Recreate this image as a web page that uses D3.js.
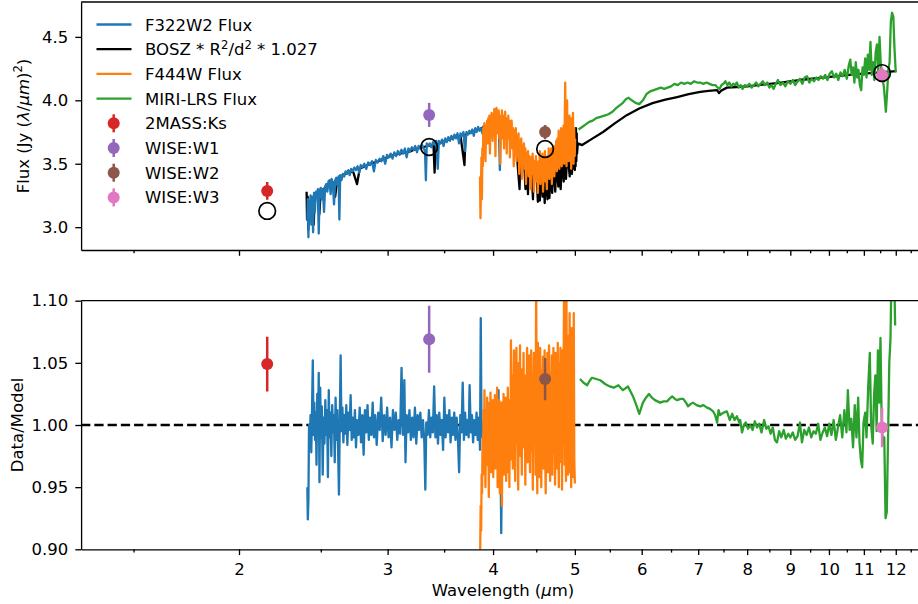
<!DOCTYPE html>
<html>
<head>
<meta charset="utf-8">
<script src="https://cdn.jsdelivr.net/npm/d3@7"></script>
<style>
  body { margin: 0; background: #fff; }
  svg { font-family: "DejaVu Sans", sans-serif; }
</style>
</head>
<body>
<div id="chart"></div>
<script>
// ---- data (wavelength in micron, value) ----
const f322Flux = [
  [2.410,3.05],[2.413,3.22],[2.417,2.92],[2.421,3.18],[2.426,3.12],[2.431,3.25],[2.436,3.02],[2.442,3.24],
  [2.448,2.96],[2.454,3.27],[2.460,3.12],[2.467,3.28],[2.474,3.24],[2.480,3.30],[2.486,2.95],[2.492,3.29],
  [2.500,3.31],[2.508,3.22],[2.515,3.30],[2.522,3.12],[2.530,3.32],[2.538,3.34],[2.545,3.28],[2.553,3.36],
  [2.560,3.37],[2.568,3.26],[2.575,3.38],[2.583,3.35],[2.592,3.18],[2.600,3.37],[2.608,3.39],[2.616,3.33],
  [2.624,3.40],[2.630,3.06],[2.636,3.41],[2.645,3.37],[2.655,3.42],[2.665,3.40],[2.675,3.44],[2.685,3.42],
  [2.695,3.45],[2.705,3.41],[2.716,3.46],[2.728,3.44],[2.740,3.47],[2.752,3.45],[2.764,3.48],[2.776,3.43],
  [2.788,3.49],[2.800,3.47],[2.815,3.50],[2.830,3.46],[2.845,3.51],[2.860,3.49],[2.875,3.52],[2.890,3.44],
  [2.905,3.53],[2.920,3.51],[2.935,3.54],[2.950,3.52],[2.965,3.56],[2.980,3.50],[2.995,3.57],[3.010,3.55],
  [3.025,3.58],[3.040,3.54],[3.055,3.59],[3.070,3.56],[3.085,3.60],[3.100,3.57],[3.115,3.61],[3.130,3.58],
  [3.145,3.62],[3.160,3.55],[3.175,3.62],[3.190,3.60],[3.205,3.63],[3.220,3.61],[3.235,3.64],[3.250,3.59],
  [3.265,3.64],[3.280,3.62],[3.295,3.65],[3.310,3.62],[3.322,3.60],[3.330,3.37],[3.338,3.66],[3.352,3.64],
  [3.365,3.66],[3.380,3.63],[3.395,3.67],[3.410,3.65],[3.425,3.68],[3.440,3.46],[3.450,3.68],[3.465,3.66],
  [3.480,3.69],[3.495,3.64],[3.510,3.70],[3.525,3.67],[3.540,3.71],[3.555,3.68],[3.570,3.72],[3.585,3.69],
  [3.600,3.73],[3.615,3.70],[3.630,3.74],[3.645,3.66],[3.660,3.74],[3.675,3.72],[3.690,3.75],[3.705,3.60],
  [3.720,3.75],[3.735,3.73],[3.750,3.76],[3.765,3.74],[3.780,3.77],[3.795,3.72],[3.810,3.78],[3.825,3.75],
  [3.840,3.79],[3.855,3.76],[3.870,3.78],[3.885,3.74],[3.900,3.80],[3.920,3.77],[3.940,3.83],[3.960,3.79],
  [3.980,3.86],[4.000,3.82],[4.020,3.93],[4.040,3.84],[4.060,3.90],[4.075,3.45],[4.085,3.82],[4.100,3.83]
];

const boszModel = [
  [2.405,3.28],[2.408,3.06],[2.412,3.24],[2.416,2.98],[2.422,3.18],[2.430,3.20],[2.440,3.23],[2.452,3.02],
  [2.460,3.25],[2.475,3.27],[2.490,3.10],[2.500,3.29],[2.520,3.30],[2.540,3.33],[2.560,3.35],[2.580,3.36],
  [2.600,3.24],[2.615,3.38],[2.640,3.40],[2.670,3.42],[2.700,3.43],[2.730,3.44],[2.760,3.34],[2.780,3.46],
  [2.820,3.48],[2.860,3.50],[2.900,3.51],[2.950,3.53],[3.000,3.55],[3.050,3.57],[3.100,3.58],[3.150,3.59],
  [3.200,3.60],[3.250,3.62],[3.300,3.63],[3.350,3.64],[3.400,3.645],[3.410,3.43],[3.420,3.65],[3.480,3.67],
  [3.540,3.69],[3.600,3.71],[3.660,3.72],[3.700,3.49],[3.710,3.73],[3.780,3.75],[3.850,3.77],[3.900,3.79],
  [3.960,3.81],[4.020,3.83],[4.080,3.80],[4.140,3.76],[4.200,3.72],[4.260,3.64],[4.300,3.30],[4.310,3.62],
  [4.350,3.58],[4.370,3.30],[4.385,3.55],[4.400,3.26],[4.410,3.54],[4.440,3.50],[4.460,3.22],[4.470,3.49],
  [4.500,3.47],[4.520,3.20],[4.530,3.46],[4.545,3.21],[4.560,3.45],[4.580,3.24],[4.590,3.46],[4.605,3.19],
  [4.620,3.46],[4.640,3.22],[4.650,3.47],[4.665,3.23],[4.680,3.48],[4.700,3.27],[4.710,3.50],[4.740,3.28],
  [4.750,3.52],[4.780,3.32],[4.790,3.54],[4.810,3.30],[4.830,3.56],[4.850,3.36],[4.860,3.58],[4.880,3.38],
  [4.900,3.60],[4.930,3.40],[4.940,3.62],[4.960,3.42],[4.970,3.64],[4.990,3.46],[4.995,3.70],[5.000,3.45],
  [5.005,3.75],[5.010,3.48],[5.015,3.78],[5.020,3.52],[5.025,3.74],[5.030,3.58],[5.040,3.66],[5.100,3.647],
  [5.250,3.70],[5.400,3.75],[5.580,3.82],[5.760,3.883],[5.960,3.935],[6.180,3.978],[6.400,4.005],[6.610,4.026],
  [6.820,4.048],[7.040,4.066],[7.200,4.074],[7.370,4.081],[7.410,4.057],[7.450,4.076],[7.570,4.100],[7.780,4.105],
  [8.000,4.110],[8.340,4.124],[8.680,4.136],[8.950,4.148],[9.220,4.160],[9.550,4.170],[9.900,4.180],[10.350,4.195],
  [10.800,4.207],[11.400,4.218],[12.020,4.230]
];

const f444Flux = [
  [3.860,3.40],[3.865,3.07],[3.870,3.30],[3.875,3.55],[3.880,3.22],[3.885,3.62],[3.890,3.48],[3.895,3.78],
  [3.900,3.60],[3.906,3.82],[3.912,3.70],[3.918,3.52],[3.924,3.80],[3.930,3.72],[3.936,3.84],[3.942,3.66],
  [3.948,3.86],[3.954,3.78],[3.960,3.88],[3.966,3.58],[3.972,3.84],[3.978,3.76],[3.984,3.90],[3.990,3.80],
  [3.996,3.68],[4.002,3.89],[4.008,3.78],[4.014,3.93],[4.020,3.82],[4.026,3.56],[4.032,3.86],[4.038,3.94],
  [4.044,3.74],[4.050,3.90],[4.056,3.80],[4.062,3.92],[4.068,3.70],[4.074,3.88],[4.080,3.50],[4.086,3.85],
  [4.092,3.78],[4.098,3.92],[4.104,3.70],[4.110,3.88],[4.116,3.80],[4.122,3.62],[4.128,3.86],[4.134,3.91],
  [4.140,3.74],[4.146,3.86],[4.152,3.58],[4.158,3.82],[4.164,3.76],[4.170,3.88],[4.176,3.70],[4.182,3.84],
  [4.188,3.55],[4.194,3.80],[4.200,3.72],[4.208,3.84],[4.216,3.62],[4.224,3.78],[4.232,3.48],[4.240,3.76],
  [4.248,3.66],[4.256,3.78],[4.264,3.52],[4.272,3.72],[4.280,3.60],[4.288,3.74],[4.296,3.42],[4.304,3.68],
  [4.312,3.56],[4.320,3.70],[4.328,3.38],[4.336,3.64],[4.344,3.52],[4.352,3.66],[4.360,3.46],[4.368,3.62],
  [4.376,3.34],[4.384,3.58],[4.392,3.48],[4.400,3.60],[4.408,3.40],[4.416,3.56],[4.424,3.46],[4.432,3.30],
  [4.440,3.55],[4.448,3.42],[4.456,3.58],[4.464,3.45],[4.472,3.28],[4.480,3.52],[4.488,3.40],[4.496,3.56],
  [4.504,3.36],[4.512,3.50],[4.520,3.27],[4.528,3.52],[4.536,3.42],[4.544,3.60],[4.552,3.34],[4.560,3.50],
  [4.568,3.40],[4.576,3.58],[4.584,3.28],[4.592,3.48],[4.600,3.42],[4.608,3.60],[4.616,3.36],[4.624,3.52],
  [4.632,3.30],[4.640,3.56],[4.648,3.44],[4.656,3.62],[4.664,3.38],[4.672,3.54],[4.680,3.46],[4.688,3.62],
  [4.696,3.34],[4.704,3.56],[4.712,3.48],[4.720,3.64],[4.728,3.40],[4.736,3.60],[4.744,3.50],[4.752,3.68],
  [4.760,3.44],[4.768,3.70],[4.776,3.55],[4.784,3.76],[4.792,3.46],[4.800,3.66],[4.808,3.56],[4.816,3.78],
  [4.824,3.48],[4.832,3.72],[4.840,3.60],[4.848,3.80],[4.856,3.50],[4.864,3.84],[4.870,4.14],[4.876,3.58],
  [4.882,3.90],[4.888,3.48],[4.895,4.00],[4.902,3.62],[4.910,3.84],[4.918,3.52],[4.926,3.88],[4.934,3.66],
  [4.942,3.86],[4.950,3.46],[4.958,3.80],[4.966,3.60],[4.974,3.90],[4.982,3.50],[4.990,3.78],[4.998,3.56],
  [5.004,3.70]
];

const miriFlux = [
  [5.05,3.77],[5.10,3.79],[5.15,3.81],[5.20,3.83],[5.25,3.84],[5.30,3.86],[5.36,3.87],[5.42,3.88],
  [5.48,3.89],[5.54,3.91],[5.60,3.94],[5.65,3.96],[5.70,3.98],[5.75,4.01],[5.79,4.02],[5.84,4.00],
  [5.90,3.98],[5.96,3.97],[6.02,4.00],[6.08,4.05],[6.14,4.07],[6.20,4.08],[6.26,4.09],[6.32,4.10],
  [6.38,4.09],[6.44,4.10],[6.50,4.11],[6.56,4.13],[6.62,4.12],[6.68,4.14],[6.74,4.13],[6.80,4.14],
  [6.86,4.13],[6.92,4.15],[6.98,4.14],[7.04,4.14],[7.10,4.13],[7.16,4.14],[7.22,4.13],[7.28,4.12],
  [7.34,4.12],[7.38,4.10],[7.42,4.09],[7.46,4.12],[7.50,4.13],[7.54,4.15],[7.58,4.12],[7.62,4.14],
  [7.66,4.11],[7.70,4.13],[7.74,4.12],[7.78,4.14],[7.82,4.10],[7.86,4.12],[7.90,4.09],[7.95,4.12],
  [8.00,4.11],[8.05,4.13],[8.10,4.10],[8.15,4.12],[8.20,4.14],[8.25,4.11],[8.30,4.13],[8.35,4.15],
  [8.40,4.12],[8.45,4.14],[8.50,4.10],[8.55,4.12],[8.60,4.09],[8.65,4.13],[8.70,4.16],[8.76,4.12],
  [8.82,4.14],[8.88,4.11],[8.94,4.15],[9.00,4.13],[9.06,4.16],[9.12,4.12],[9.18,4.15],[9.24,4.17],
  [9.30,4.13],[9.36,4.18],[9.42,4.19],[9.48,4.14],[9.54,4.17],[9.60,4.15],[9.66,4.18],[9.72,4.16],
  [9.78,4.19],[9.84,4.17],[9.90,4.20],[9.96,4.16],[10.02,4.21],[10.08,4.23],[10.14,4.18],[10.20,4.21],
  [10.26,4.16],[10.32,4.22],[10.38,4.19],[10.44,4.24],[10.50,4.17],[10.56,4.28],[10.60,4.32],[10.64,4.20],
  [10.68,4.26],[10.72,4.14],[10.76,4.30],[10.80,4.18],[10.84,4.24],[10.88,4.12],[10.92,4.08],[10.96,4.26],
  [11.00,4.20],[11.04,4.33],[11.08,4.18],[11.12,4.36],[11.16,4.24],[11.20,4.46],[11.24,4.20],[11.28,4.30],
  [11.32,4.16],[11.36,4.38],[11.40,4.44],[11.44,4.22],[11.48,4.50],[11.52,4.28],[11.56,4.20],[11.62,4.10],
  [11.68,3.91],[11.72,4.06],[11.76,4.24],[11.80,4.30],[11.84,4.62],[11.88,4.69],[11.92,4.66],[11.96,4.40],
  [12.00,4.22]
];

const f322Ratio = [
  [2.410,0.950],[2.413,0.924],[2.417,0.940],[2.421,1.000],[2.426,0.985],[2.431,1.008],[2.436,0.978],[2.441,1.012],
  [2.446,1.052],[2.451,0.992],[2.456,1.018],[2.461,0.988],[2.466,1.010],[2.471,0.968],[2.476,1.025],[2.481,0.994],
  [2.486,1.042],[2.491,0.954],[2.496,1.030],[2.501,0.990],[2.507,1.015],[2.513,0.960],[2.519,1.006],[2.525,0.985],
  [2.531,1.020],[2.537,0.992],[2.543,1.012],[2.549,0.958],[2.555,1.028],[2.561,0.990],[2.567,1.010],[2.573,0.975],
  [2.579,1.016],[2.585,0.994],[2.591,1.008],[2.597,0.970],[2.603,1.022],[2.609,0.988],[2.615,1.012],[2.621,0.980],
  [2.627,0.944],[2.633,1.004],[2.639,1.056],[2.645,0.995],[2.652,1.014],[2.659,0.986],[2.666,1.008],[2.673,0.993],
  [2.680,1.016],[2.688,0.984],[2.696,1.010],[2.704,0.996],[2.712,1.024],[2.720,0.988],[2.728,1.006],[2.736,0.990],
  [2.744,1.012],[2.752,0.982],[2.760,1.004],[2.770,0.992],[2.780,1.014],[2.790,0.986],[2.800,1.008],[2.810,0.976],
  [2.820,1.012],[2.830,0.994],[2.840,1.016],[2.850,0.988],[2.860,1.006],[2.870,0.992],[2.880,1.018],[2.890,0.990],
  [2.900,1.008],[2.912,0.984],[2.924,1.010],[2.936,0.996],[2.948,1.022],[2.960,0.987],[2.972,1.008],[2.984,0.992],
  [2.996,1.014],[3.008,0.990],[3.020,1.006],[3.032,0.982],[3.044,1.012],[3.056,0.996],[3.068,1.010],[3.080,0.988],
  [3.092,1.004],[3.104,0.993],[3.116,1.046],[3.128,0.992],[3.140,1.036],[3.150,0.970],[3.160,1.008],[3.172,0.994],
  [3.184,1.012],[3.196,0.988],[3.208,1.006],[3.220,0.990],[3.232,1.014],[3.244,0.985],[3.256,1.008],[3.268,0.996],
  [3.280,1.010],[3.292,0.990],[3.304,1.004],[3.316,0.986],[3.325,0.948],[3.334,1.002],[3.346,0.992],[3.358,1.012],
  [3.370,0.990],[3.382,1.006],[3.394,0.994],[3.406,1.031],[3.418,0.990],[3.430,1.008],[3.442,0.985],[3.454,1.010],
  [3.466,0.992],[3.478,1.004],[3.490,0.980],[3.502,1.022],[3.514,0.990],[3.526,1.008],[3.538,0.994],[3.550,1.012],
  [3.562,0.986],[3.574,1.006],[3.586,0.992],[3.598,1.010],[3.610,0.988],[3.622,1.006],[3.634,0.990],[3.646,0.962],
  [3.658,1.008],[3.670,0.994],[3.682,1.034],[3.694,0.988],[3.706,1.010],[3.718,0.992],[3.730,1.004],[3.742,0.990],
  [3.752,1.032],[3.764,0.994],[3.776,1.008],[3.788,0.986],[3.800,1.004],[3.812,0.992],[3.824,1.010],[3.836,0.988],
  [3.848,1.006],[3.860,0.980],[3.868,1.086],[3.876,0.990],[3.888,1.002],[3.900,0.994],[3.915,1.012],[3.930,0.985],
  [3.945,1.008],[3.960,0.992],[3.975,1.016],[3.990,0.978],[4.005,1.010],[4.020,0.986],[4.035,1.020],[4.050,0.990],
  [4.060,1.028],[4.070,0.970],[4.080,0.990],[4.090,0.913],[4.100,0.985]
];

const f444Ratio = [
  [3.850,0.860],[3.856,0.880],[3.862,0.900],[3.867,0.935],[3.872,0.915],[3.877,0.960],[3.882,0.945],[3.887,0.990],
  [3.892,0.960],[3.897,1.012],[3.902,0.972],[3.907,1.028],[3.912,0.985],[3.918,0.950],[3.924,1.010],[3.930,0.968],
  [3.936,1.022],[3.942,0.978],[3.948,1.005],[3.954,0.942],[3.960,1.018],[3.966,0.984],[3.972,1.026],[3.978,0.962],
  [3.984,1.004],[3.990,0.975],[3.996,1.020],[4.002,0.958],[4.008,1.012],[4.014,0.980],[4.020,1.024],[4.026,0.965],
  [4.032,1.008],[4.038,0.985],[4.044,1.030],[4.050,0.950],[4.056,1.015],[4.062,0.975],[4.068,1.020],[4.074,0.945],
  [4.080,1.005],[4.086,0.970],[4.092,1.018],[4.098,0.935],[4.104,1.010],[4.110,0.980],[4.116,1.025],[4.122,0.960],
  [4.128,1.012],[4.134,0.976],[4.140,1.022],[4.146,0.955],[4.152,1.008],[4.158,0.982],[4.164,1.030],[4.170,0.962],
  [4.176,1.015],[4.182,0.950],[4.188,1.020],[4.194,0.972],[4.200,1.068],[4.207,0.990],[4.214,1.040],[4.221,0.965],
  [4.228,1.020],[4.235,1.060],[4.242,0.995],[4.249,0.955],[4.256,1.030],[4.263,1.062],[4.270,0.985],[4.277,1.015],
  [4.284,0.948],[4.291,1.050],[4.298,1.005],[4.305,1.064],[4.312,0.975],[4.319,1.020],[4.326,0.960],[4.333,1.045],
  [4.340,1.000],[4.347,1.058],[4.354,0.982],[4.361,1.030],[4.368,0.952],[4.375,1.040],[4.382,1.010],[4.389,1.062],
  [4.396,0.970],[4.403,1.025],[4.410,0.990],[4.417,1.056],[4.424,0.962],[4.431,1.030],[4.438,1.060],[4.445,0.980],
  [4.452,1.040],[4.458,0.948],[4.464,1.015],[4.471,1.058],[4.478,0.985],[4.485,1.035],[4.492,0.960],[4.499,1.125],
  [4.506,0.990],[4.513,0.945],[4.520,1.066],[4.527,1.000],[4.534,1.040],[4.541,0.958],[4.548,1.062],[4.555,1.010],
  [4.562,0.950],[4.569,1.044],[4.576,0.992],[4.583,1.055],[4.590,0.965],[4.597,1.020],[4.604,1.060],[4.611,0.975],
  [4.618,0.945],[4.625,1.035],[4.632,1.000],[4.639,1.058],[4.646,0.962],[4.653,1.030],[4.660,1.064],[4.667,0.985],
  [4.674,0.955],[4.681,1.042],[4.688,1.005],[4.695,1.056],[4.702,0.960],[4.709,1.020],[4.716,1.062],[4.723,0.978],
  [4.730,1.035],[4.737,0.952],[4.744,1.058],[4.751,1.000],[4.758,1.040],[4.765,0.965],[4.772,1.066],[4.779,0.990],
  [4.786,0.950],[4.793,1.050],[4.800,1.010],[4.807,1.062],[4.814,0.970],[4.821,1.030],[4.828,0.948],[4.835,1.060],
  [4.842,0.985],[4.849,1.045],[4.856,1.120],[4.862,0.968],[4.868,1.130],[4.874,1.000],[4.880,0.955],[4.887,1.100],
  [4.894,0.990],[4.901,1.060],[4.908,0.960],[4.915,1.072],[4.922,1.000],[4.929,1.090],[4.936,0.962],[4.943,1.040],
  [4.950,0.950],[4.957,1.078],[4.964,0.985],[4.971,1.064],[4.978,0.958],[4.985,1.090],[4.992,0.972],[5.000,0.953]
];

const miriRatio = [
  [5.07,1.037],[5.12,1.034],[5.17,1.032],[5.21,1.036],[5.24,1.038],[5.30,1.037],[5.36,1.036],[5.43,1.033],
  [5.50,1.031],[5.56,1.030],[5.63,1.032],[5.70,1.028],[5.78,1.031],[5.86,1.023],[5.92,1.015],[5.96,1.009],
  [6.02,1.018],[6.07,1.022],[6.12,1.025],[6.17,1.022],[6.22,1.020],[6.31,1.018],[6.37,1.019],[6.43,1.019],
  [6.47,1.021],[6.52,1.023],[6.57,1.021],[6.61,1.020],[6.67,1.021],[6.72,1.021],[6.77,1.018],[6.81,1.015],
  [6.86,1.017],[6.90,1.018],[6.97,1.016],[7.04,1.015],[7.10,1.016],[7.17,1.014],[7.23,1.013],[7.29,1.011],
  [7.33,1.008],[7.37,1.002],[7.40,1.012],[7.43,1.008],[7.50,1.010],[7.57,1.011],[7.63,1.004],[7.68,1.009],
  [7.73,1.004],[7.78,1.007],[7.83,1.002],[7.85,1.004],[7.89,0.994],[7.93,1.000],[7.97,1.002],[8.02,0.997],
  [8.07,1.000],[8.12,0.996],[8.17,1.003],[8.22,0.998],[8.27,1.001],[8.32,0.994],[8.38,1.004],[8.43,0.997],
  [8.48,0.999],[8.53,0.993],[8.58,0.998],[8.63,0.988],[8.68,0.986],[8.73,0.995],[8.78,0.990],[8.84,0.996],
  [8.89,0.989],[8.95,0.993],[9.00,0.990],[9.06,0.994],[9.12,0.988],[9.18,0.991],[9.24,1.002],[9.29,0.986],
  [9.35,0.996],[9.41,0.992],[9.47,0.998],[9.53,0.990],[9.59,0.995],[9.65,0.993],[9.71,1.001],[9.77,0.988],
  [9.83,0.994],[9.89,0.998],[9.95,0.991],[10.01,1.001],[10.07,0.992],[10.13,1.004],[10.19,0.988],[10.25,0.998],
  [10.31,1.008],[10.37,0.990],[10.43,1.012],[10.49,0.994],[10.53,1.028],[10.58,0.996],[10.63,1.005],[10.68,0.982],
  [10.73,1.016],[10.78,0.990],[10.83,1.022],[10.87,0.986],[10.91,0.972],[10.95,0.966],[10.99,1.002],[11.04,1.010],
  [11.08,0.990],[11.13,1.030],[11.18,1.058],[11.22,1.000],[11.27,0.985],[11.31,1.024],[11.35,1.040],[11.39,0.995],
  [11.43,1.060],[11.47,1.018],[11.51,1.070],[11.55,0.998],[11.59,0.985],[11.63,0.990],[11.67,0.925],[11.71,0.930],
  [11.75,0.990],[11.79,1.050],[11.83,1.070],[11.87,1.140],[11.91,1.160],[11.95,1.120],[11.98,1.080]
];

const photBands = ['2MASS:Ks', 'WISE:W1', 'WISE:W2', 'WISE:W3'];
const photColors = ['#d62728', '#9467bd', '#8c564b', '#e377c2'];
const photWave = [2.16, 3.36, 4.61, 11.56];
const photFlux = [3.286, 3.885, 3.75, 4.20];
const photFluxErr = [0.07, 0.095, 0.055, 0.06];
const modelPhot = [3.128, 3.632, 3.616, 4.215];
const photRatio = [1.049, 1.069, 1.037, 0.998];
const photRatioErr = [0.022, 0.027, 0.017, 0.016];

const majorTicks = [2, 3, 4, 5, 6, 7, 8, 9, 10, 11, 12];
const minorTicks = [1.5, 2.5, 3.5, 4.5, 5.5, 6.5, 7.5, 8.5, 9.5, 10.5, 11.5, 12.5];
const topTicks = [3.0, 3.5, 4.0, 4.5];
const botTicks = [0.90, 0.95, 1.00, 1.05, 1.10];

// ---- layout ----
const W = 918, H = 604;
const fontSize = 16.5;
const svg = d3.select('#chart').append('svg').attr('width', W).attr('height', H);

const x = d3.scaleLog().domain([1.3, 13]).range([81.1, 925.1]);
const yTop = d3.scaleLinear().domain([2.82, 4.775]).range([250, 2]);
const yBot = d3.scaleLinear().domain([0.9, 1.1]).range([549.3, 300.7]);

const defs = svg.append('defs');
defs.append('clipPath').attr('id', 'clipTop').append('rect')
  .attr('x', 81.1).attr('y', 2).attr('width', 844).attr('height', 248);
defs.append('clipPath').attr('id', 'clipBot').append('rect')
  .attr('x', 81.1).attr('y', 300.7).attr('width', 844).attr('height', 248.6);

const lw = 2.3;
function drawLine(g, data, y, color) {
  const line = d3.line().x(d => x(d[0])).y(d => y(d[1]));
  g.append('path').datum(data)
    .attr('d', line)
    .attr('fill', 'none')
    .attr('stroke', color)
    .attr('stroke-width', lw)
    .attr('stroke-linejoin', 'round');
}

function drawErr(g, xs, ys, errs, y, r) {
  xs.forEach((w, i) => {
    g.append('line')
      .attr('x1', x(w)).attr('x2', x(w))
      .attr('y1', y(ys[i] - errs[i])).attr('y2', y(ys[i] + errs[i]))
      .attr('stroke', photColors[i]).attr('stroke-width', 2.5);
    g.append('circle')
      .attr('cx', x(w)).attr('cy', y(ys[i])).attr('r', r)
      .attr('fill', photColors[i]);
  });
}

// top panel
const topG = svg.append('g').attr('clip-path', 'url(#clipTop)');
drawLine(topG, boszModel, yTop, '#000000');
drawLine(topG, f322Flux, yTop, '#1f77b4');
drawLine(topG, f444Flux, yTop, '#ff7f0e');
drawLine(topG, miriFlux, yTop, '#2ca02c');
drawErr(topG, photWave, photFlux, photFluxErr, yTop, 6);
topG.selectAll('circle.model')
  .data(photWave)
  .enter().append('circle')
  .attr('class', 'model')
  .attr('cx', d => x(d))
  .attr('cy', (d, i) => yTop(modelPhot[i]))
  .attr('r', 8.3)
  .attr('fill', 'none')
  .attr('stroke', '#000')
  .attr('stroke-width', 1.7);

// bottom panel
const botG = svg.append('g').attr('clip-path', 'url(#clipBot)');
botG.append('line')
  .attr('x1', 81.1).attr('x2', 925)
  .attr('y1', yBot(1)).attr('y2', yBot(1))
  .attr('stroke', '#000').attr('stroke-width', 2.5)
  .attr('stroke-dasharray', '9.25,4');
drawLine(botG, f322Ratio, yBot, '#1f77b4');
drawLine(botG, f444Ratio, yBot, '#ff7f0e');
drawLine(botG, miriRatio, yBot, '#2ca02c');
drawErr(botG, photWave, photRatio, photRatioErr, yBot, 6);

// ---- axes ----
function styleAxis(g) {
  g.attr('font-size', fontSize).attr('font-family', '"DejaVu Sans", sans-serif');
  g.selectAll('text').attr('fill', '#000');
  g.selectAll('line').attr('stroke', '#000').attr('stroke-width', 1.33);
  g.select('.domain').attr('stroke', '#000').attr('stroke-width', 1.33);
}

function xAxis(y0, labels) {
  const gMin = svg.append('g').attr('transform', `translate(0,${y0})`)
    .call(d3.axisBottom(x).tickValues(minorTicks).tickFormat(() => '').tickSize(3.3).tickSizeOuter(0));
  gMin.select('.domain').remove();
  styleAxis(gMin);
  const gMaj = svg.append('g').attr('transform', `translate(0,${y0})`)
    .call(d3.axisBottom(x).tickValues(majorTicks)
      .tickFormat(labels ? d3.format('d') : () => '')
      .tickSize(5.8).tickPadding(8).tickSizeOuter(0));
  styleAxis(gMaj);
}

function yAxis(scale, ticks, fmt) {
  const g = svg.append('g').attr('transform', 'translate(81.1,0)')
    .call(d3.axisLeft(scale).tickValues(ticks).tickFormat(d3.format(fmt))
      .tickSize(5.8).tickPadding(7).tickSizeOuter(0));
  styleAxis(g);
}

xAxis(250, false);
xAxis(549.3, true);
yAxis(yTop, topTicks, '.1f');
yAxis(yBot, botTicks, '.2f');

// top spines
[2, 300.7].forEach(yy => {
  svg.append('line').attr('x1', 81.1).attr('x2', 925).attr('y1', yy).attr('y2', yy)
    .attr('stroke', '#000').attr('stroke-width', 1.33);
});

// ---- axis labels ----
const supShift = 6.5, supSize = 11.6;
const yl1 = svg.append('text')
  .attr('transform', 'translate(28.5,126) rotate(-90)')
  .attr('text-anchor', 'middle').attr('font-size', fontSize);
yl1.append('tspan').text('Flux (Jy (');
yl1.append('tspan').attr('font-style', 'italic').text('λ');
yl1.append('tspan').text('/');
yl1.append('tspan').attr('font-style', 'italic').text('μm');
yl1.append('tspan').text(')');
yl1.append('tspan').attr('dy', -supShift).attr('font-size', supSize).text('2');
yl1.append('tspan').attr('dy', supShift).text(')');

svg.append('text')
  .attr('transform', 'translate(22.5,425) rotate(-90)')
  .attr('text-anchor', 'middle').attr('font-size', fontSize)
  .text('Data/Model');

const xl = svg.append('text')
  .attr('x', 503).attr('y', 595.5)
  .attr('text-anchor', 'middle').attr('font-size', fontSize);
xl.append('tspan').text('Wavelength (');
xl.append('tspan').attr('font-style', 'italic').text('μ');
xl.append('tspan').text('m)');

// ---- legend ----
const legendLines = [
  { label: 'F322W2 Flux', color: '#1f77b4' },
  { label: 'BOSZ', color: '#000000' },
  { label: 'F444W Flux', color: '#ff7f0e' },
  { label: 'MIRI-LRS Flux', color: '#2ca02c' }
];
const leg = svg.append('g').attr('font-size', fontSize);
const rowY = i => 24.5 + i * 24.7;
legendLines.forEach((d, i) => {
  leg.append('line')
    .attr('x1', 96.5).attr('x2', 131.5)
    .attr('y1', rowY(i)).attr('y2', rowY(i))
    .attr('stroke', d.color).attr('stroke-width', lw);
  const t = leg.append('text').attr('x', 145).attr('y', rowY(i) + 6);
  if (d.label === 'BOSZ') {
    t.append('tspan').text('BOSZ * R');
    t.append('tspan').attr('dy', -supShift).attr('font-size', supSize).text('2');
    t.append('tspan').attr('dy', supShift).text('/d');
    t.append('tspan').attr('dy', -supShift).attr('font-size', supSize).text('2');
    t.append('tspan').attr('dy', supShift).text(' * 1.027');
  } else {
    t.text(d.label);
  }
});
photBands.forEach((b, i) => {
  const yy = rowY(i + 4);
  leg.append('line')
    .attr('x1', 113.7).attr('x2', 113.7)
    .attr('y1', yy - 9).attr('y2', yy + 9)
    .attr('stroke', photColors[i]).attr('stroke-width', 2.5);
  leg.append('circle')
    .attr('cx', 113.7).attr('cy', yy).attr('r', 6)
    .attr('fill', photColors[i]);
  leg.append('text').attr('x', 145).attr('y', yy + 6).text(b);
});
</script>
</body>
</html>
